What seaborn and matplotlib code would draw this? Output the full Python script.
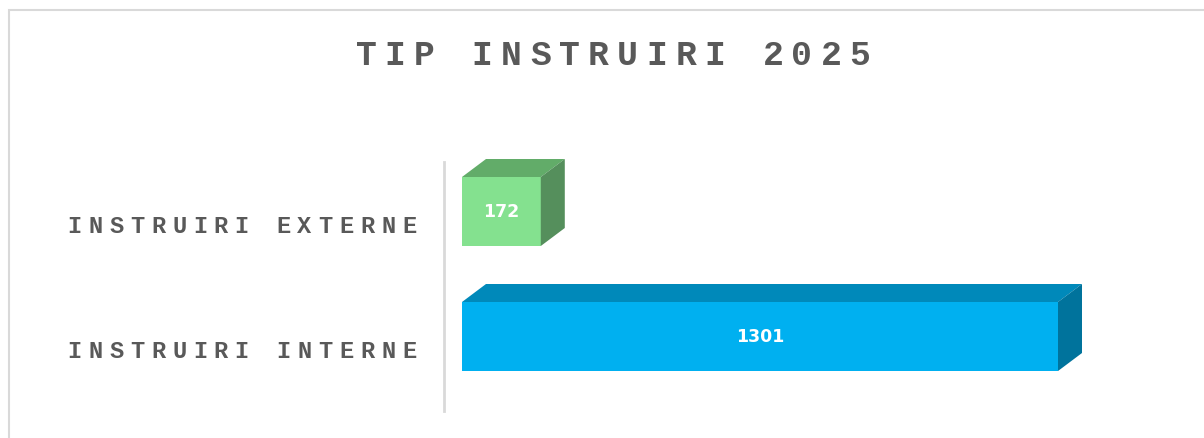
import matplotlib
matplotlib.use('Agg')
import matplotlib.pyplot as plt
import matplotlib.transforms as mtransforms
from matplotlib.patches import Polygon, Rectangle
import seaborn as sns

categories = ["INSTRUIRI EXTERNE", "INSTRUIRI INTERNE"]
values = [172, 1301]
front_colors = ["#84E18F", "#00B0F0"]
top_colors = ["#62AC69", "#0089BA"]
side_colors = ["#558F5C", "#00739C"]
title = "TIP INSTRUIRI 2025"

TEXT_COLOR = "#595959"
MONO = "Liberation Mono"

sns.set_theme(style="white")
plt.rcParams['font.family'] = ['DejaVu Sans']

W, H = 1204, 439
fig = plt.figure(figsize=(W / 100, H / 100), dpi=100)

# axes placed in pixel terms: x=0 sits at px 462, axis line at px 444
ax = fig.add_axes([444 / W, (H - 412) / H, (1150 - 444) / W, (412 - 163) / H])
px_per_unit = 596 / 1301
ax.set_xlim(-18 / px_per_unit, (1150 - 462) / px_per_unit)

sns.barplot(x=values, y=categories, hue=categories, palette=front_colors,
            orient='h', width=0.552, legend=False, saturation=1, ax=ax)
ax.set_ylim(1 + (412 - 337.5) / 125, -(212.5 - 163) / 125)

# fake 3D: top and side faces
dx = 24 / px_per_unit
dy = 18 / 125
bars = sorted(ax.patches, key=lambda p: p.get_y())
for bar, tc, sc in zip(bars, top_colors, side_colors):
    x0, x1 = bar.get_x(), bar.get_x() + bar.get_width()
    yt, yb = bar.get_y(), bar.get_y() + bar.get_height()
    ax.add_patch(Polygon([(x0, yt), (x0 + dx, yt - dy), (x1 + dx, yt - dy), (x1, yt)],
                         closed=True, facecolor=tc, edgecolor='none', clip_on=False))
    ax.add_patch(Polygon([(x1, yt), (x1 + dx, yt - dy), (x1 + dx, yb - dy), (x1, yb)],
                         closed=True, facecolor=sc, edgecolor='none', clip_on=False))
    bar.set_edgecolor('none')

for i, v in enumerate(values):
    ax.text(v / 2, i, str(v), ha='center', va='center', color='white',
            fontsize=12.5, fontweight='bold')

ax.set_xticks([])
ax.set_yticks([])
ax.set_xlabel('')
ax.set_ylabel('')
for s in ['top', 'right', 'bottom']:
    ax.spines[s].set_visible(False)
ax.spines['left'].set_color('#d9d9d9')
ax.spines['left'].set_linewidth(2)


def spaced(x_px, y, text, pitch, size, transform, anchor='left'):
    # monospace text with extra letter spacing, one glyph at a time
    n = len(text)
    if anchor == 'right':
        x_px = x_px - (n - 1) * pitch
    for k, ch in enumerate(text):
        fig.text((x_px + k * pitch) / W, y, ch, ha='center', va='baseline',
                 fontsize=size, fontweight='bold', family=MONO,
                 color=TEXT_COLOR, transform=transform)


ytrans = mtransforms.blended_transform_factory(fig.transFigure, ax.transData)
for i, cat in enumerate(categories):
    spaced(409, i + 0.164, cat, 20.9, 17, ytrans, anchor='right')

spaced(366, 1 - 65 / H, title, 29.06, 25, fig.transFigure)

top = 1 - 11 / H
fig.patches.append(Rectangle((9 / W, -0.2), 1.2, top + 0.2,
                             transform=fig.transFigure, fill=False,
                             edgecolor='#d9d9d9', linewidth=1.5))

fig.savefig('out.png', dpi=100, facecolor='white')
